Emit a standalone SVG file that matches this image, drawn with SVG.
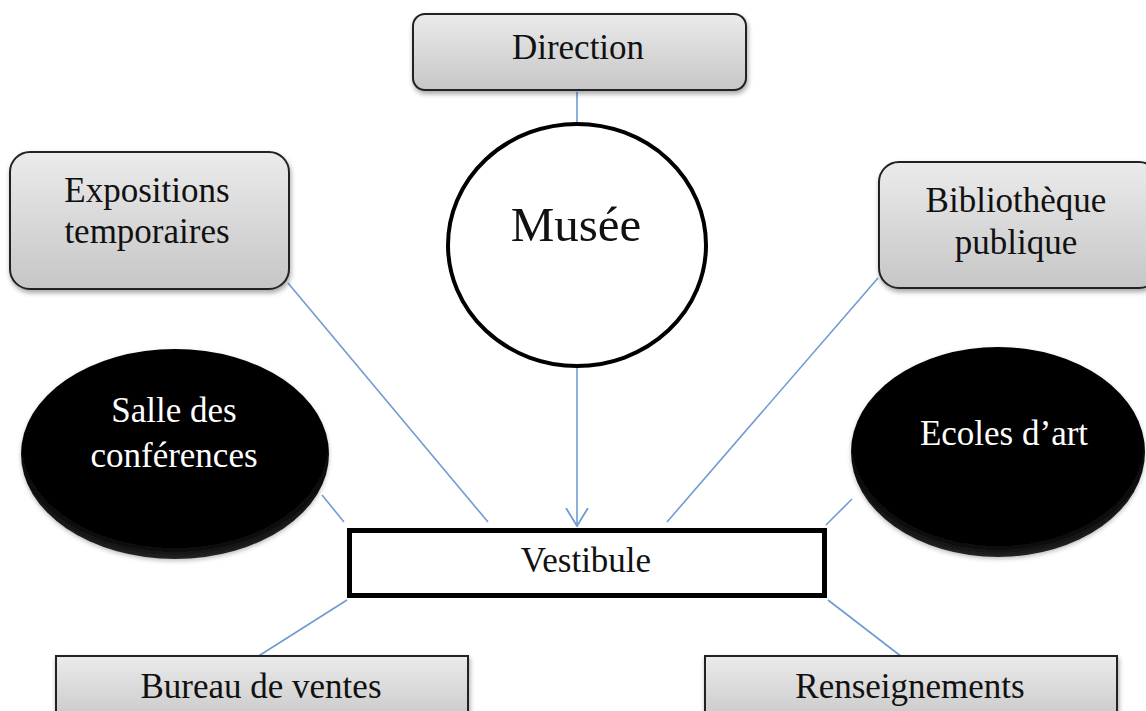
<svg xmlns="http://www.w3.org/2000/svg" width="1146" height="711" viewBox="0 0 1146 711">
<style>
.t{font-family:"Liberation Serif","Times New Roman",serif;fill:#111;text-anchor:middle;font-size:35px}
.w{fill:#fff}
.box{fill:url(#gray);stroke:#222;stroke-width:2;filter:url(#sh)}
.ell{fill:url(#blk);filter:url(#sh2)}
.con{stroke:#6f9bd2;stroke-width:1.6;fill:none}
</style>
<defs>
<linearGradient id="gray" x1="0" y1="0" x2="0" y2="1">
<stop offset="0" stop-color="#ebebeb"/>
<stop offset="1" stop-color="#c6c6c6"/>
</linearGradient>
<radialGradient id="blk" cx="0.5" cy="0.45" r="0.55">
<stop offset="0" stop-color="#000"/>
<stop offset="0.9" stop-color="#050505"/>
<stop offset="1" stop-color="#262626"/>
</radialGradient>
<filter id="sh" x="-10%" y="-10%" width="125%" height="130%">
<feDropShadow dx="1" dy="3" stdDeviation="2.5" flood-color="#000" flood-opacity="0.35"/>
</filter>
<filter id="sh2" x="-10%" y="-10%" width="125%" height="130%">
<feDropShadow dx="0" dy="2" stdDeviation="2" flood-color="#000" flood-opacity="0.25"/>
</filter>
<marker id="arr" viewBox="0 0 19 24" refX="18" refY="12" markerWidth="19" markerHeight="24" markerUnits="userSpaceOnUse" orient="auto">
<path d="M0,1 L18,12 L0,23" fill="none" stroke="#6f9bd2" stroke-width="1.8"/>
</marker>
</defs>
<g id="connectors">
<line class="con" x1="577" y1="92" x2="577" y2="123"/>
<line class="con" x1="577" y1="368" x2="577" y2="526" marker-end="url(#arr)"/>
<line class="con" x1="288" y1="283" x2="488" y2="522"/>
<line class="con" x1="322" y1="495" x2="344" y2="522"/>
<line class="con" x1="878" y1="278" x2="667" y2="522"/>
<line class="con" x1="852" y1="499" x2="826" y2="525"/>
<line class="con" x1="347" y1="600" x2="257" y2="657"/>
<line class="con" x1="828" y1="600" x2="902" y2="657"/>
</g>
<g id="direction">
<rect class="box" x="413" y="14" width="333" height="76" rx="12"/>
<text class="t" x="578" y="59">Direction</text>
</g>
<g id="musee">
<ellipse cx="577" cy="245" rx="129" ry="121" fill="#fff" stroke="#000" stroke-width="4"/>
<text class="t" x="576" y="241" style="font-size:49px">Musée</text>
</g>
<g id="expositions">
<rect class="box" x="10" y="152" width="279" height="137" rx="20"/>
<text class="t" x="147" y="202">Expositions</text>
<text class="t" x="147" y="243">temporaires</text>
</g>
<g id="bibliotheque">
<rect class="box" x="879" y="162" width="280" height="126" rx="20"/>
<text class="t" x="1016" y="212">Bibliothèque</text>
<text class="t" x="1016" y="254">publique</text>
</g>
<g id="salle">
<ellipse class="ell" cx="175" cy="454" rx="154" ry="105"/>
<text class="t w" x="174" y="422">Salle des</text>
<text class="t w" x="174" y="467">conférences</text>
</g>
<g id="ecoles">
<ellipse class="ell" cx="998" cy="452" rx="147" ry="105"/>
<text class="t w" x="1004" y="445">Ecoles d’art</text>
</g>
<g id="vestibule">
<rect x="349.5" y="530.5" width="475" height="65" fill="#fff" stroke="#000" stroke-width="5"/>
<text class="t" x="586" y="572">Vestibule</text>
</g>
<g id="bureau">
<rect class="box" x="56" y="656" width="412" height="70"/>
<text class="t" x="261" y="698">Bureau  de ventes</text>
</g>
<g id="renseignements">
<rect class="box" x="705" y="656" width="412" height="70"/>
<text class="t" x="910" y="698">Renseignements</text>
</g>
</svg>
